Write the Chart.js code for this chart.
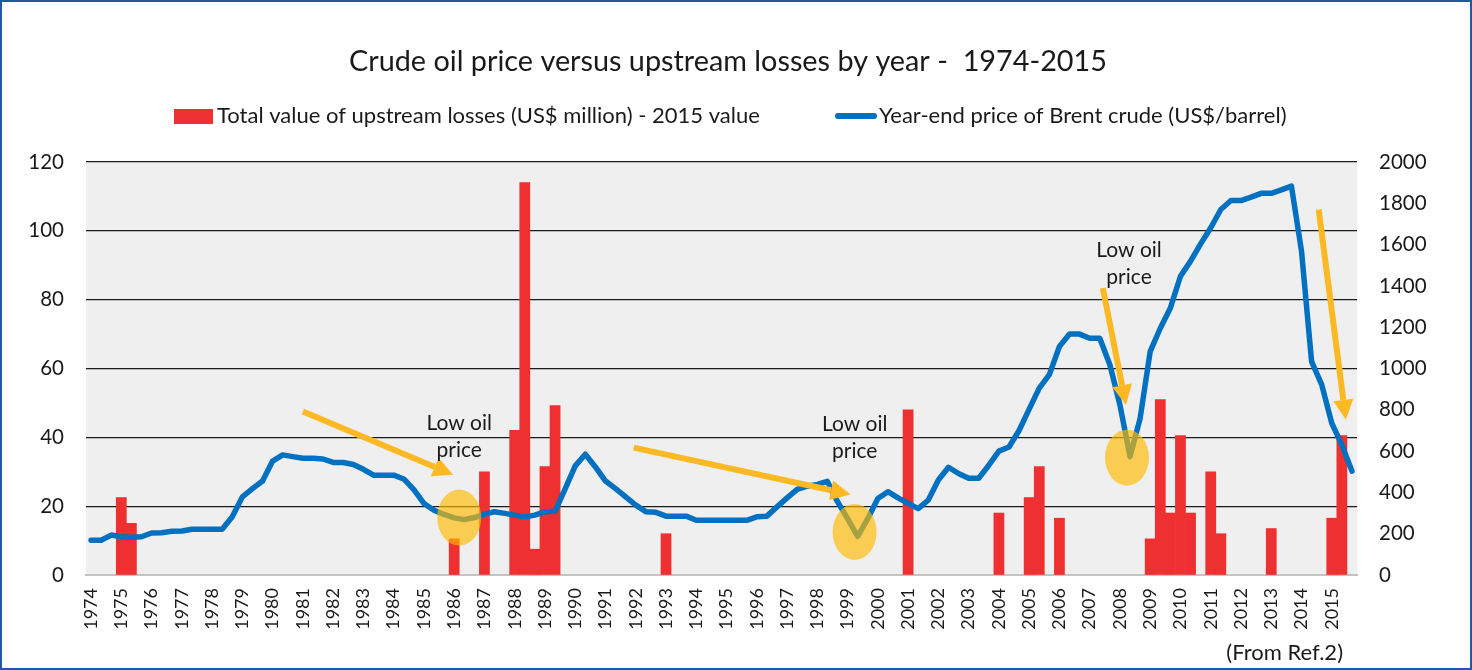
<!DOCTYPE html>
<html>
<head>
<meta charset="utf-8">
<script src="https://cdn.jsdelivr.net/npm/chart.js@4"></script>
<style>
  html, body { margin:0; padding:0; background:#fff; }
  #wrap { position:relative; width:1472px; height:670px; box-sizing:border-box; border:2px solid #1f5aa0; }
  canvas { display:block; }
</style>
</head>
<body>
<div id="wrap"><canvas id="c" width="1468" height="666"></canvas></div>
<script>
// ============ Data ============
// three slots per year, label on the first slot
const years = [1974,1975,1976,1977,1978,1979,1980,1981,1982,1983,1984,1985,1986,1987,
  1988,1989,1990,1991,1992,1993,1994,1995,1996,1997,1998,1999,2000,2001,2002,2003,
  2004,2005,2006,2007,2008,2009,2010,2011,2012,2013,2014,2015];

// Year-end price of Brent crude (US$/barrel), left axis
const brentPrice = [
  10.1,10.1,11.6, 11.1,11.0,11.1, 12.2,12.3,12.7, 12.8,13.3,13.3, 13.3,13.3,16.9,
  22.7,25.1,27.3, 33.1,34.9,34.4, 33.9,33.9,33.7, 32.7,32.7,32.1, 30.7,29.0,29.0,
  29.0,27.9,24.8, 20.8,18.8,17.6, 16.6,16.1,16.7, 17.6,18.4,17.9, 17.4,16.9,17.4,
  18.4,18.5,25.0, 31.7,35.1,31.4, 27.3,25.1,22.7, 20.3,18.4,18.2, 17.1,17.1,17.1,
  15.9,15.9,15.9, 15.9,15.9,15.9, 16.9,17.1,19.8, 22.4,24.9,25.8, 26.3,27.2,21.3,
  16.4,11.2,16.4, 22.2,24.2,22.4, 20.8,19.3,21.8, 27.6,31.3,29.5, 28.1,28.1,31.9,
  36.0,37.2,42.0, 48.2,54.3,58.2, 66.4,70.0,70.0, 68.8,68.8,61.1, 49.4,34.4,45.5,
  65.0,71.7,77.6, 86.8,91.2,96.2, 100.9,106.2,108.8, 108.8,109.8,110.9, 110.9,111.9,113.0,
  94.1,62.0,55.3, 44.1,37.8,30.2
];

// Total value of upstream losses (US$ million, 2015 value), right axis
const upstreamLosses = [
  null,null,null, 375,250,null, null,null,null, null,null,null, null,null,null,
  null,null,null, null,null,null, null,null,null, null,null,null, null,null,null,
  null,null,null, null,null,null, 175,null,null, 500,null,null, 700,1900,125,
  525,820,null, null,null,null, null,null,null, null,null,null, 200,null,null,
  null,null,null, null,null,null, null,null,null, null,null,null, null,null,null,
  null,null,null, null,null,null, 800,null,null, null,null,null, null,null,null,
  300,null,null, 375,525,null, 275,null,null, null,null,null, null,null,null,
  175,850,300, 675,300,null, 500,200,null, null,null,null, 225,null,null,
  null,null,null, 275,675,null
];

const slotLabels = [];
years.forEach(y => slotLabels.push(String(y), "", ""));

// "Low oil price" call-outs, in data units (slot index, price)
const lowSpots = [
  { x:36.5, y:16.7, text:[36.5, 44.0] },
  { x:75.7, y:12.5, text:[75.7, 43.8] },
  { x:102.7, y:34.1, text:[102.9, 94.5] }
];
const arrows = [
  { from:[21.0, 47.5], to:[35.9, 29.1] },
  { from:[53.8, 37.0], to:[75.3, 23.4] },
  { from:[100.3, 83.4], to:[102.6, 49.4] },
  { from:[121.7, 106.2], to:[124.4, 45.1] }
];

// ============ Style ============
const FONT = "Lato, 'Open Sans', sans-serif";
const INK = "#1a1a1a";
const RED = "#ef3030";
const BLUE = "#0070c0";
const AMBER = "#fdb924";

// ============ Plugins ============
const plotBg = {
  id: "plotBg",
  beforeDraw(chart){
    const { ctx, chartArea:a } = chart;
    ctx.save();
    ctx.fillStyle = "#efefef";
    ctx.fillRect(a.left, a.top, a.right - a.left, a.bottom - a.top);
    ctx.restore();
  }
};

function drawArrow(ctx, x1, y1, x2, y2){
  const ang = Math.atan2(y2 - y1, x2 - x1);
  const head = 20, half = 10;
  const bx = x2 - head * Math.cos(ang), by = y2 - head * Math.sin(ang);
  ctx.strokeStyle = AMBER; ctx.fillStyle = AMBER;
  ctx.lineWidth = 6; ctx.lineCap = "butt";
  ctx.beginPath(); ctx.moveTo(x1, y1); ctx.lineTo(bx, by); ctx.stroke();
  ctx.beginPath();
  ctx.moveTo(x2, y2);
  ctx.lineTo(bx + half * Math.sin(ang), by - half * Math.cos(ang));
  ctx.lineTo(bx - half * Math.sin(ang), by + half * Math.cos(ang));
  ctx.closePath(); ctx.fill();
}

const callouts = {
  id: "callouts",
  afterDatasetsDraw(chart){
    const { ctx, scales } = chart;
    const px = v => scales.x.getPixelForValue(v);
    const py = v => scales.y.getPixelForValue(v);
    ctx.save();
    arrows.forEach(a => drawArrow(ctx, px(a.from[0]), py(a.from[1]), px(a.to[0]), py(a.to[1])));
    lowSpots.forEach(s => {
      ctx.fillStyle = "rgba(255,186,0,0.66)";
      ctx.beginPath();
      ctx.ellipse(px(s.x), py(s.y), 22, 28, 0, 0, Math.PI * 2);
      ctx.fill();
      ctx.fillStyle = INK;
      ctx.font = "21px " + FONT;
      ctx.textAlign = "center"; ctx.textBaseline = "middle";
      const tx = px(s.text[0]), ty = py(s.text[1]);
      ctx.fillText("Low oil", tx, ty);
      ctx.fillText("price", tx, ty + 27);
    });
    ctx.restore();
  }
};

const headings = {
  id: "headings",
  afterDraw(chart){
    const { ctx } = chart;
    ctx.save();
    ctx.fillStyle = INK;
    ctx.textBaseline = "middle";
    ctx.textAlign = "center";
    ctx.font = "28.8px " + FONT;
    ctx.fillText("Crude oil price versus upstream losses by year -  1974-2015", 726, 60);

    // legend
    ctx.textAlign = "left";
    ctx.font = "22px " + FONT;
    ctx.fillStyle = RED;
    ctx.fillRect(172, 107, 39, 15);
    ctx.fillStyle = INK;
    ctx.fillText("Total value of upstream losses (US$ million) - 2015 value", 215, 114);
    ctx.strokeStyle = BLUE; ctx.lineWidth = 6; ctx.lineCap = "round";
    ctx.beginPath(); ctx.moveTo(836, 114); ctx.lineTo(872, 114); ctx.stroke();
    ctx.fillText("Year-end price of Brent crude (US$/barrel)", 877, 114);

    ctx.textAlign = "right";
    ctx.fillText("(From Ref.2)", 1341, 651);
    ctx.restore();
  }
};

// ============ Chart ============
new Chart(document.getElementById("c"), {
  type: "bar",
  data: {
    labels: slotLabels,
    datasets: [
      {
        type: "line",
        label: "Year-end price of Brent crude (US$/barrel)",
        data: brentPrice,
        yAxisID: "y",
        borderColor: BLUE,
        borderWidth: 5.5,
        borderJoinStyle: "round",
        borderCapStyle: "round",
        pointRadius: 0,
        tension: 0,
        order: 1
      },
      {
        type: "bar",
        label: "Total value of upstream losses (US$ million) - 2015 value",
        data: upstreamLosses,
        yAxisID: "y1",
        backgroundColor: RED,
        categoryPercentage: 1,
        barPercentage: 1,
        order: 2
      }
    ]
  },
  options: {
    responsive: false,
    animation: false,
    layout: { padding: { top: 160, left: 0, right: 0, bottom: 0 } },
    plugins: { legend: { display: false }, tooltip: { enabled: false }, title: { display: false } },
    scales: {
      x: {
        grid: { display: false, drawTicks: false },
        border: { color: "#c4c4c4", width: 2 },
        ticks: {
          autoSkip: false, minRotation: 90, maxRotation: 90, padding: 13,
          color: INK, font: { family: FONT, size: 18 }
        },
        afterFit: s => { s.height = 93; }
      },
      y: {
        position: "left", min: 0, max: 120,
        grid: {
          drawTicks: false,
          color: ctx => ctx.tick && ctx.tick.value === 0 ? "rgba(0,0,0,0)" : "#1a1a1a",
          lineWidth: 1.3
        },
        border: { display: false },
        ticks: { stepSize: 20, padding: 22, color: INK, font: { family: FONT, size: 20.5 } },
        afterFit: s => { s.width = 84; }
      },
      y1: {
        position: "right", min: 0, max: 2000,
        grid: { drawOnChartArea: false, drawTicks: false },
        border: { display: false },
        ticks: {
          stepSize: 200, padding: 22, color: INK, font: { family: FONT, size: 20.5 },
          callback: v => String(v)
        },
        afterFit: s => { s.width = 113; }
      }
    }
  },
  plugins: [plotBg, callouts, headings]
});
</script>
</body>
</html>
